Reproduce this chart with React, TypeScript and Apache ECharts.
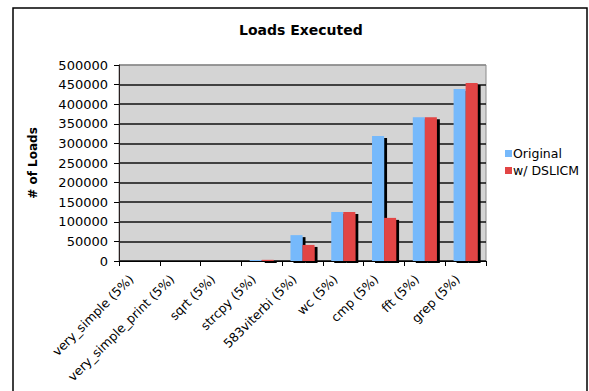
import React, { useEffect, useRef } from "react";
import * as echarts from "echarts";

const categories = [
  "very_simple (5%)",
  "very_simple_print (5%)",
  "sqrt (5%)",
  "strcpy (5%)",
  "583viterbi (5%)",
  "wc (5%)",
  "cmp (5%)",
  "fft (5%)",
  "grep (5%)",
];
const original = [0, 0, 0, 2500, 66000, 125000, 319000, 367000, 439000];
const dslicm = [0, 0, 0, 3000, 41000, 125000, 110000, 367000, 454000];
const seriesNames = ["Original", "w/ DSLICM"];
const yTicks = [0, 500000, 50000];

const FONT = "DejaVu Sans, Verdana, sans-serif";

export default function App() {
  const ref = useRef<HTMLDivElement>(null);
  useEffect(() => {
    if (!ref.current) return;
    const chart = echarts.init(ref.current, null, { renderer: "svg" });
    const splitColors = Array.from({ length: 11 }, (_, i) => (i === 10 ? "#8a8a8a" : "#111"));
    chart.setOption({
      animation: false,
      backgroundColor: "#fff",
      textStyle: { fontFamily: FONT },
      title: {
        text: "Loads Executed",
        left: 239,
        top: 23,
        padding: 0,
        textStyle: { fontFamily: FONT, fontWeight: "bold", fontSize: 14, color: "#000" },
      },
      legend: {
        orient: "vertical",
        left: 505,
        top: 146,
        padding: 0,
        icon: "rect",
        itemWidth: 7,
        itemHeight: 7,
        itemGap: 2,
        data: seriesNames,
        textStyle: {
          fontFamily: FONT,
          fontSize: 12.5,
          lineHeight: 15,
          color: "#000",
          padding: [0, 0, 0, -4],
        },
      },
      grid: {
        left: 119,
        right: 103,
        top: 65,
        bottom: 130,
        containLabel: false,
        outerBoundsMode: "none",
        show: true,
        backgroundColor: "#d4d4d4",
        borderColor: "#8a8a8a",
        borderWidth: 1,
      },
      xAxis: {
        type: "category",
        data: categories,
        axisLine: { lineStyle: { color: "#000", width: 1 } },
        axisTick: { show: true, length: 5, lineStyle: { color: "#000" } },
        axisLabel: {
          rotate: 45,
          interval: 0,
          margin: 24,
          verticalAlign: "bottom",
          padding: [0, 0, 5, 0],
          fontFamily: FONT,
          fontSize: 12.5,
          color: "#000",
        },
      },
      yAxis: {
        type: "value",
        min: yTicks[0],
        max: yTicks[1],
        interval: yTicks[2],
        name: "# of Loads",
        nameLocation: "middle",
        nameGap: 80,
        nameTextStyle: { fontFamily: FONT, fontWeight: "bold", fontSize: 12, color: "#000" },
        axisLine: { show: true, lineStyle: { color: "#2a2020", width: 1 } },
        axisTick: { show: true, length: 5, lineStyle: { color: "#000" } },
        axisLabel: {
          margin: 11,
          fontFamily: FONT,
          fontSize: 13,
          color: "#000",
          formatter: (v: number) => String(v),
        },
        splitLine: { show: true, lineStyle: { color: splitColors, width: 1.5 } },
      },
      series: [
        {
          name: seriesNames[0],
          type: "bar",
          data: original,
          barGap: "0%",
          barCategoryGap: "41%",
          itemStyle: {
            color: "#76b9fb",
            shadowColor: "#000",
            shadowBlur: 0,
            shadowOffsetX: 3,
            shadowOffsetY: 2,
          },
        },
        {
          name: seriesNames[1],
          type: "bar",
          data: dslicm,
          barGap: "0%",
          barCategoryGap: "41%",
          itemStyle: {
            color: "#e24545",
            shadowColor: "#000",
            shadowBlur: 0,
            shadowOffsetX: 3,
            shadowOffsetY: 2,
          },
        },
      ],
      graphic: [
        {
          type: "rect",
          shape: { x: 13, y: 8, width: 574, height: 400 },
          style: { fill: "none", stroke: "#000", lineWidth: 1.5 },
          silent: true,
          z: 100,
        },
      ],
    });
    return () => chart.dispose();
  }, []);
  return (
    <div style={{ position: "fixed", left: 0, top: 0, width: 589, height: 391, background: "#fff" }}>
      <div ref={ref} style={{ width: 589, height: 391 }} />
    </div>
  );
}
